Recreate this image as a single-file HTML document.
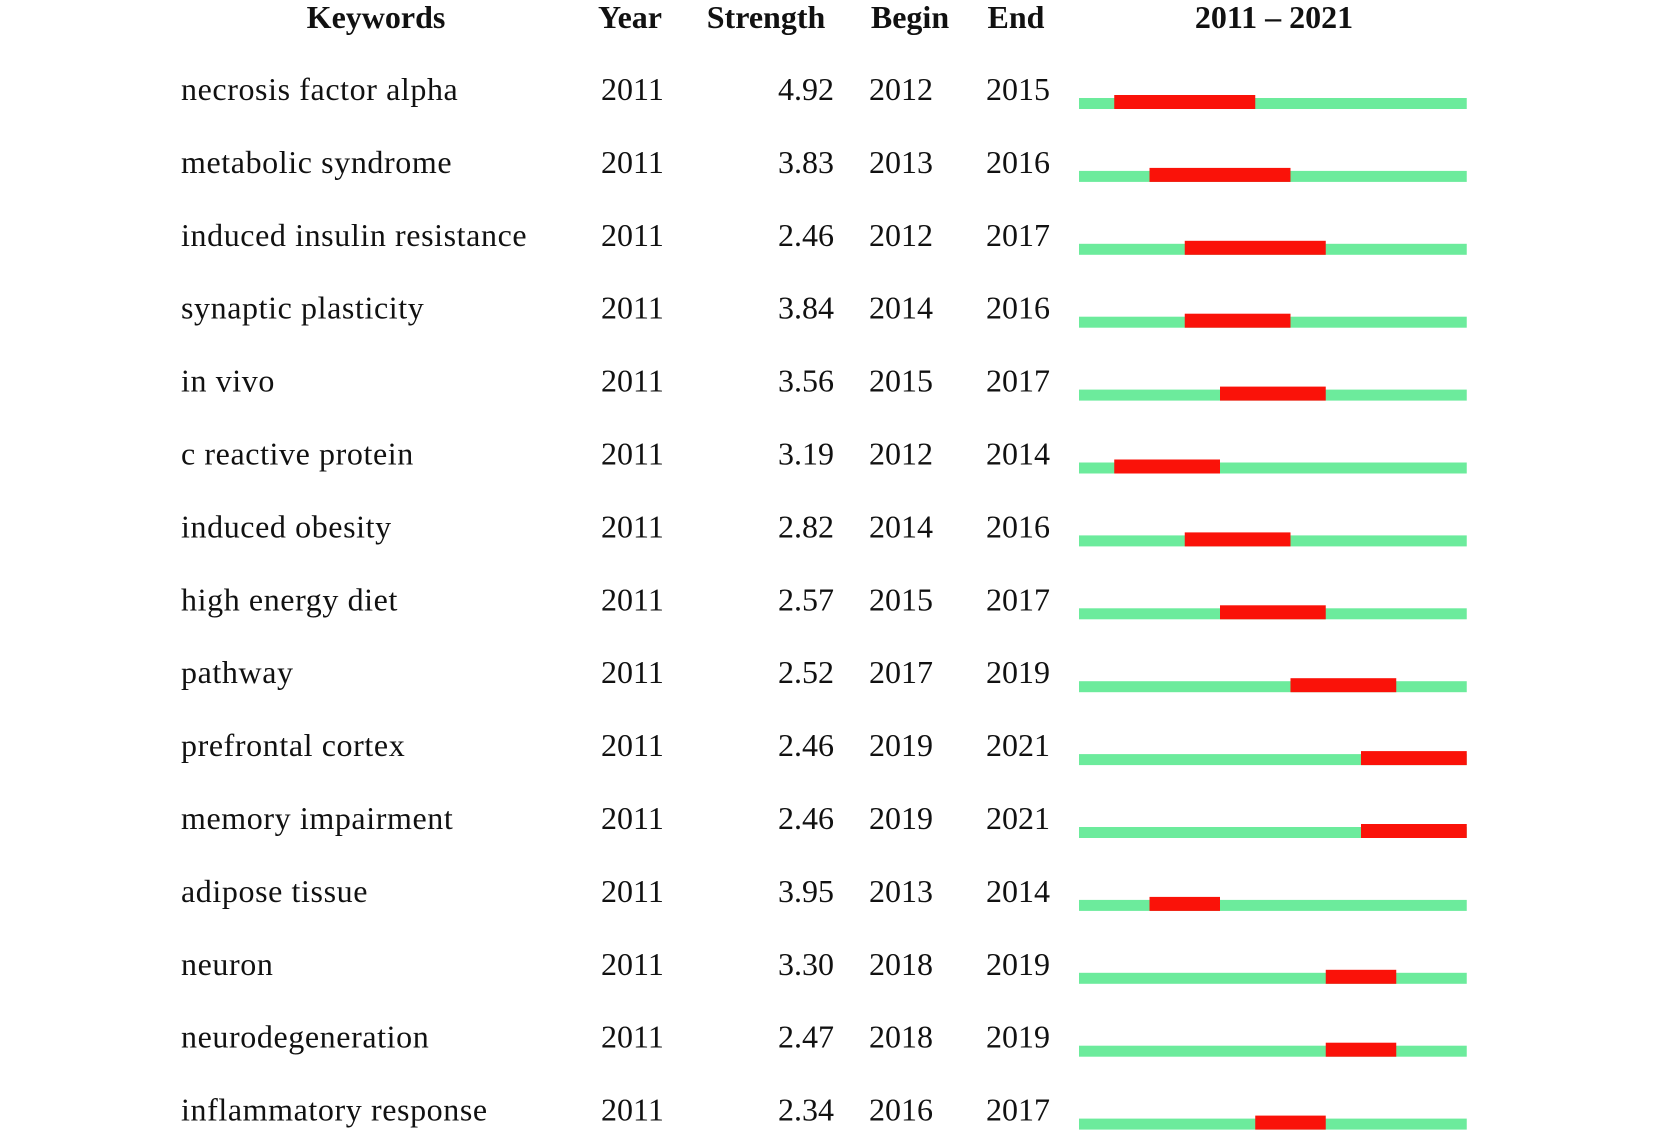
<!DOCTYPE html>
<html><head><meta charset="utf-8"><style>
html,body{margin:0;padding:0;background:#fff;}
svg{display:block;}
text{font-family:"Liberation Serif",serif;fill:#111;}
</style></head><body>
<svg id="chart" width="1654" height="1140" viewBox="0 0 1654 1140">
<g id="hdr" font-weight="bold" font-size="32">
<text x="376" y="28" text-anchor="middle">Keywords</text>
<text x="630" y="28" text-anchor="middle">Year</text>
<text x="766" y="28" text-anchor="middle">Strength</text>
<text x="910" y="28" text-anchor="middle">Begin</text>
<text x="1016" y="28" text-anchor="middle">End</text>
<text x="1274" y="28" text-anchor="middle">2011 – 2021</text>
</g>
<g id="rows"></g>
</svg>
<script>
const keywords=["necrosis factor alpha","metabolic syndrome","induced insulin resistance","synaptic plasticity","in vivo","c reactive protein","induced obesity","high energy diet","pathway","prefrontal cortex","memory impairment","adipose tissue","neuron","neurodegeneration","inflammatory response"];
const years=[2011,2011,2011,2011,2011,2011,2011,2011,2011,2011,2011,2011,2011,2011,2011];
const strength=[4.92,3.83,2.46,3.84,3.56,3.19,2.82,2.57,2.52,2.46,2.46,3.95,3.30,2.47,2.34];
const begin=[2012,2013,2012,2014,2015,2012,2014,2015,2017,2019,2019,2013,2018,2018,2016];
const end=[2015,2016,2017,2016,2017,2014,2016,2017,2019,2021,2021,2014,2019,2019,2017];
const burstBegin=[2012,2013,2014,2014,2015,2012,2014,2015,2017,2019,2019,2013,2018,2018,2016];
const startYear=2011,endYear=2021;

const NS="http://www.w3.org/2000/svg";
const g=document.getElementById('rows');
const x0=1079,cell=35.25;
function xYear(y){return x0+(y-startYear)*cell;}
function yRow(i){return 100+i*72.9;}
function mk(tag,attrs,txt){const e=document.createElementNS(NS,tag);for(const k in attrs)e.setAttribute(k,attrs[k]);if(txt!==undefined)e.textContent=txt;return e;}
keywords.forEach((k,i)=>{
  const y=yRow(i);
  const row=mk('g',{});
  
  
  const t1=mk('text',{x:181,y:y,'font-size':32,'letter-spacing':0.6},k);
  
  
  const t2=mk('text',{x:601,y:y,'font-size':32},years[i]);
  
  
  const t3=mk('text',{x:834,y:y,'font-size':32,'text-anchor':'end'},strength[i].toFixed(2));
  
  
  const t4=mk('text',{x:869,y:y,'font-size':32},begin[i]);
  
  
  const t5=mk('text',{x:986,y:y,'font-size':32},end[i]);
  
  
  const gr=mk('rect',{x:xYear(startYear),y:y-2,width:xYear(endYear+1)-xYear(startYear),height:11,fill:'#6ceb9c'});
  
  
  const rd=mk('rect',{x:xYear(burstBegin[i]),y:y-5,width:xYear(end[i]+1)-xYear(burstBegin[i]),height:14,fill:'#fa1209'});
  
  
  [t1,t2,t3,t4,t5,gr,rd].forEach(e=>row.appendChild(e));
  g.appendChild(row);
});
</script>
</body></html>
